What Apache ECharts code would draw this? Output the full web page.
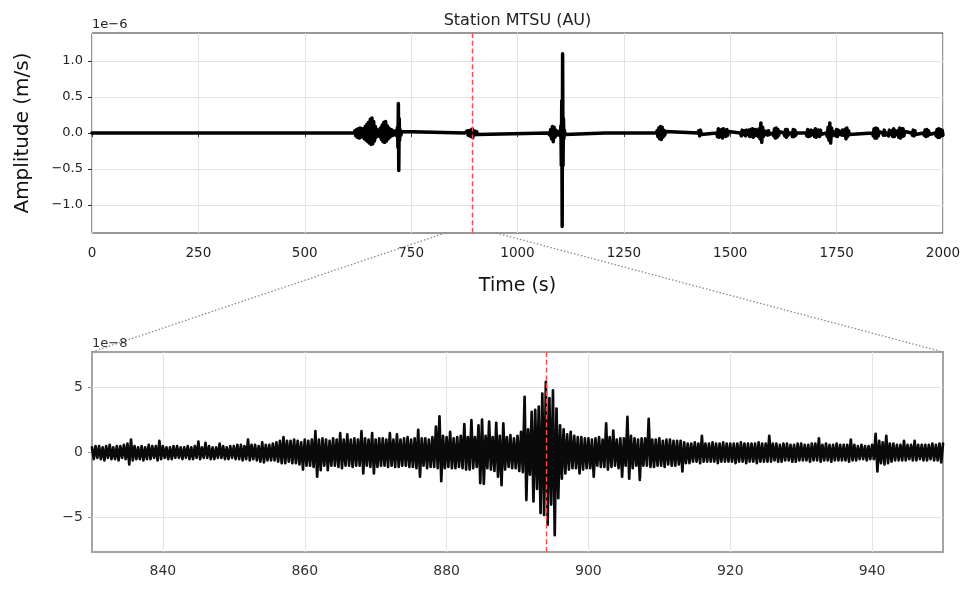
<!DOCTYPE html>
<html lang="en">
<head>
<meta charset="UTF-8">
<title>Station MTSU (AU)</title>
<script src="https://cdn.jsdelivr.net/npm/echarts@6.0.0/dist/echarts.min.js"></script>
<style>
    html, body { margin: 0; padding: 0; background: #fff; }
    #main { width: 971px; height: 590px; }
</style>
</head>
<body>
<div id="main"></div>
<script>
// whole record, [time (s), amplitude (x1e-6 m/s)], quiet stretches kept at 0
var overviewTrace = [
    [0,0],[616,0],
    [618,0.03],[620,-0.04],[622,0.05],[624,-0.06],[626,0.06],[628,-0.07],[630,0.07],[632,-0.06],[634,0.06],[636,-0.05],
    [638,0.06],[640,-0.08],[642,0.09],[644,-0.10],[646,0.12],[648,-0.12],[650,0.15],[652,-0.14],[654,0.19],[656,-0.16],
    [658,0.21],[660,-0.15],[662,0.16],[664,-0.11],[666,0.09],[668,-0.06],[670,0.05],[672,-0.03],[674,0.03],[676,-0.05],
    [678,0.07],[680,-0.09],[682,0.11],[684,-0.12],[686,0.15],[688,-0.13],[690,0.16],[692,-0.11],[694,0.10],[696,-0.08],
    [698,0.07],[700,-0.06],[702,0.05],[704,-0.04],[706,0.04],[708,-0.03],[710,0.02],[712,-0.02],[714,0.03],[716,-0.04],
    [718,0.08],[719,-0.20],[720,0.41],[721,-0.52],[722,0.20],[723,-0.10],[724,0.05],[726,-0.03],[728,0.02],[730,0],
    [876,0],[878,0.02],[880,-0.02],[882,0.03],[884,-0.03],[886,0.03],[888,-0.04],[890,0.04],[892,-0.05],[894,0.055],
    [895,-0.065],[896,0.04],[898,-0.03],[900,0.025],[902,-0.02],[904,0.02],[906,-0.02],[908,0],
    [1072,0],[1074,0.02],[1076,-0.03],[1078,0.05],[1080,-0.08],[1082,0.09],[1084,-0.12],[1086,0.08],[1088,-0.06],[1090,0.04],
    [1092,-0.03],[1094,0.02],[1096,-0.02],[1098,0.02],[1100,-0.04],[1102,0.10],[1103,-0.45],[1104,0.45],[1105,-1.30],
    [1106,1.10],[1107,-0.45],[1108,0.20],[1109,-0.08],[1110,0.04],[1112,-0.02],[1114,0],
    [1206,0],[1208,0.02],[1210,-0.02],[1212,0],[1250,0],[1252,0.02],[1254,-0.02],[1256,0],
    [1326,0],[1328,0.03],[1330,-0.05],[1332,0.07],[1334,-0.08],[1336,0.09],[1338,-0.09],[1340,0.08],[1342,-0.06],[1344,0.04],
    [1346,-0.03],[1348,0.02],[1350,0],
    [1424,0],[1426,0.03],[1428,-0.04],[1430,0.04],[1432,-0.02],[1434,0],
    [1468,0],[1470,-0.05],[1472,0.06],[1474,-0.06],[1476,0.03],[1478,-0.02],[1480,0.05],[1482,-0.07],[1484,0.06],[1486,-0.04],
    [1488,0.03],[1490,-0.05],[1492,0.05],[1494,-0.03],[1496,0.02],[1498,0],
    [1524,0],[1526,-0.04],[1528,0.04],[1530,-0.02],[1532,0],[1534,0.03],[1536,-0.04],[1538,0.04],[1540,-0.02],[1542,0],
    [1544,0.04],[1546,-0.05],[1548,0.05],[1550,-0.04],[1552,0.06],[1554,-0.06],[1556,0.05],[1558,-0.04],[1560,0.05],[1562,-0.03],
    [1564,0.03],[1566,-0.05],[1568,0.06],[1570,-0.08],[1572,0.14],[1574,-0.13],[1576,0.08],[1578,-0.05],[1580,0.03],[1582,-0.02],
    [1584,0],[1586,0.02],[1588,-0.03],[1590,0.03],[1592,-0.02],[1594,0],
    [1600,0],[1602,-0.04],[1604,0.06],[1606,-0.07],[1608,0.07],[1610,-0.06],[1612,0.05],[1614,-0.03],[1616,0.02],[1618,0],
    [1626,0],[1628,-0.04],[1630,0.05],[1632,-0.06],[1634,0.05],[1636,-0.03],[1638,0],
    [1644,0],[1646,-0.05],[1648,0.05],[1650,-0.05],[1652,0.04],[1654,-0.03],[1656,0],
    [1678,0],[1680,-0.04],[1682,0.05],[1684,-0.05],[1686,0.03],[1688,-0.04],[1690,0.04],[1692,-0.02],[1694,0],[1696,0.03],
    [1698,-0.05],[1700,0.06],[1702,-0.06],[1704,0.04],[1706,-0.03],[1708,0.04],[1710,-0.05],[1712,0.04],[1714,-0.02],[1716,0],
    [1726,0],[1728,-0.05],[1730,0.08],[1732,-0.10],[1734,0.14],[1736,-0.14],[1738,0.07],[1740,-0.04],[1742,0.02],[1744,0],
    [1746,0.02],[1748,-0.04],[1750,0.05],[1752,-0.05],[1754,0.04],[1756,-0.02],[1758,0],[1760,0.02],[1762,-0.03],[1764,0.04],
    [1766,-0.03],[1768,0],[1770,0.05],[1772,-0.08],[1774,0.07],[1776,-0.05],[1778,0.03],[1780,-0.02],[1782,0],
    [1834,0],[1836,-0.04],[1838,0.06],[1840,-0.07],[1842,0.07],[1844,-0.07],[1846,0.06],[1848,-0.04],[1850,0.02],[1852,0],
    [1858,0],[1860,-0.03],[1862,0.04],[1864,-0.03],[1866,0],[1870,0],[1872,-0.04],[1874,0.04],[1876,-0.02],[1878,0],
    [1880,0.03],[1882,-0.05],[1884,0.06],[1886,-0.05],[1888,0.03],[1890,-0.02],[1892,0],[1894,0.03],[1896,-0.06],[1898,0.07],
    [1900,-0.07],[1902,0.06],[1904,-0.05],[1906,0.06],[1908,-0.04],[1910,0.02],[1912,0],
    [1926,0],[1928,-0.03],[1930,0.04],[1932,-0.04],[1934,0.03],[1936,-0.02],[1938,0],
    [1954,0],[1956,-0.03],[1958,0.04],[1960,-0.05],[1962,0.05],[1964,-0.04],[1966,0.03],[1968,-0.02],[1970,0],
    [1982,0],[1984,-0.04],[1986,0.05],[1988,-0.06],[1990,0.06],[1992,-0.06],[1994,0.05],[1996,-0.04],[1998,0.04],[2000,-0.03]
];
var overviewXTicks = [0, 250, 500, 750, 1000, 1250, 1500, 1750, 2000];
var overviewYTicks = [-1.0, -0.5, 0.0, 0.5, 1.0];

// zoom window: one value every 0.25 s from 830 s, amplitude x1e-8 m/s
var zoomStart = 830;
var zoomStep = 0.25;
var zoomAmp = [
    0.4,-0.5,0.5,-0.4, 0.5,-0.5,0.4,-0.6, 0.5,-0.4,0.6,-0.5, 0.4,-0.5,0.5,-0.6, 0.5,-0.4,0.6,-0.5,
    0.7,-0.9,1.0,-0.6, 0.5,-0.5,0.4,-0.5, 0.5,-0.6,0.4,-0.5, 0.6,-0.5,0.5,-0.4, 0.5,-0.6,0.9,-0.5,
    0.5,-0.4,0.4,-0.5, 0.4,-0.5,0.5,-0.4, 0.5,-0.4,0.4,-0.5, 0.4,-0.4,0.5,-0.5, 0.4,-0.5,0.5,-0.4,
    0.85,-0.5,0.4,-0.4, 0.75,-0.4,0.5,-0.5, 0.4,-0.5,0.4,-0.4, 0.7,-0.4,0.5,-0.5, 0.4,-0.5,0.5,-0.4,
    0.5,-0.5,0.6,-0.5, 0.6,-0.6,0.5,-0.5, 1.0,-0.6,0.6,-0.5, 0.6,-0.6,0.5,-0.7, 0.8,-0.75,0.6,-0.6,
    0.6,-0.6,0.7,-0.6, 0.8,-0.7,0.9,-0.8, 1.2,-0.8,0.9,-0.7, 0.9,-0.8,1.0,-0.8, 0.9,-0.9,0.8,-1.3,
    1.0,-1.0,0.9,-1.0, 1.0,-1.1,1.65,-1.85, 1.0,-1.35,1.1,-1.0, 1.0,-1.35,0.9,-1.0, 1.1,-1.0,1.0,-1.1,
    1.5,-1.2,1.0,-1.0, 1.4,-1.0,1.0,-1.1, 1.1,-1.0,1.0,-1.0, 1.65,-1.6,1.1,-1.0, 1.0,-1.1,1.5,-1.6,
    1.0,-1.1,1.1,-1.0, 1.1,-1.0,1.0,-1.1, 1.5,-1.0,1.0,-1.1, 1.4,-1.1,1.0,-1.0, 1.1,-1.0,1.2,-1.1,
    1.0,-1.1,1.1,-1.2, 1.75,-1.85,1.1,-1.0, 1.1,-1.2,1.0,-1.1, 1.2,-1.1,2.0,-1.2, 2.8,-2.2,1.3,-1.2,
    1.2,-1.1,1.6,-1.2, 1.1,-1.2,1.2,-1.1, 1.3,-1.2,2.2,-1.3, 1.2,-1.3,2.5,-1.2, 1.2,-1.1,2.1,-2.35,
    2.55,-2.4,1.3,-1.2, 2.4,-1.3,1.2,-1.4, 2.3,-1.85,1.3,-2.5, 2.25,-1.3,1.2,-1.1, 1.35,-1.2,1.1,-1.2,
    1.3,-1.4,1.6,-1.5, 4.3,-3.65,1.8,-1.7, 3.15,-3.75,3.3,-2.8, 3.55,-4.65,4.55,-4.8, 5.45,-5.55,4.2,-4.0,
    4.8,-6.35,3.4,-3.5, 2.1,-2.0,1.8,-1.6, 1.4,-1.3,1.6,-1.2, 1.3,-1.2,1.2,-1.6, 1.2,-1.3,1.1,-1.2,
    1.1,-1.2,1.0,-1.85, 1.1,-1.0,1.2,-1.1, 1.0,-1.1,2.25,-1.3, 1.2,-1.1,1.7,-1.0, 1.0,-1.2,1.1,-1.85,
    1.1,-1.0,2.75,-2.0, 1.3,-1.2,1.1,-1.0, 1.0,-2.1,1.1,-1.0, 1.1,-1.0,2.6,-1.1, 1.0,-1.1,1.0,-1.0,
    1.1,-1.0,0.9,-1.1, 1.0,-0.9,1.0,-1.0, 0.9,-1.0,0.9,-0.9, 0.9,-1.45,0.8,-0.8, 0.7,-0.8,0.7,-0.7,
    0.8,-0.7,0.7,-0.8, 1.3,-0.7,0.7,-0.7, 0.7,-0.7,0.8,-0.7, 0.7,-0.8,0.7,-0.7, 0.8,-0.7,0.7,-0.7,
    0.7,-0.7,0.7,-0.8, 0.7,-0.7,0.8,-0.7, 0.7,-0.8,0.7,-0.7, 0.7,-0.7,0.7,-0.8, 0.8,-0.7,0.7,-0.7,
    0.7,-0.7,1.3,-0.7, 0.7,-0.6,0.7,-0.7, 0.6,-0.7,0.7,-0.6, 0.7,-0.6,0.6,-0.7, 0.6,-0.7,0.7,-0.6,
    0.7,-0.6,0.6,-0.6, 0.6,-0.7,0.7,-0.6, 0.7,-0.6,1.1,-0.7, 0.6,-0.6,0.7,-0.6, 0.6,-0.7,0.6,-0.6,
    0.7,-0.6,0.6,-0.6, 0.6,-0.6,0.6,-0.7, 1.0,-0.6,0.6,-0.6, 0.5,-0.5,0.6,-0.5, 0.5,-0.6,0.5,-0.5,
    0.6,-0.5,1.45,-1.45, 0.9,-0.8,0.8,-0.9, 1.3,-0.8,0.7,-0.7, 0.7,-0.6,0.6,-0.6, 0.6,-0.6,0.9,-0.6,
    0.6,-0.5,0.6,-0.6, 0.9,-0.6,0.6,-0.5, 0.6,-0.6,0.6,-0.6, 0.6,-0.5,0.7,-0.6, 0.6,-0.6,0.7,-0.75,
    0.7
];
var zoomXTicks = [840, 860, 880, 900, 920, 940];
var zoomYTicks = [-5, 0, 5];

var pickTime = 894;   // red dashed marker

// layout
var LEFT = 92, RIGHT = 28;
var TOP1 = 33, H1 = 200;
var TOP2 = 352, H2 = 200;
var FONT = 'DejaVu Sans';

var zoomTrace = [];
for (var i = 0; i < zoomAmp.length; i++) {
    zoomTrace.push([zoomStart + i * zoomStep, zoomAmp[i]]);
}
var zoomEnd = zoomStart + (zoomAmp.length - 1) * zoomStep;

function minus(s) { return String(s).replace('-', '\u2212'); }

var pickLine = {
    silent: true,
    symbol: ['none', 'none'],
    label: { show: false },
    lineStyle: { color: '#ff4848', type: [5, 2.8], width: 1.4 },
    data: [{ xAxis: pickTime }]
};

var chart = echarts.init(document.getElementById('main'));

var option = {
    animation: false,
    backgroundColor: '#fff',
    textStyle: { fontFamily: FONT },
    title: {
        text: 'Station MTSU (AU)',
        left: LEFT + (971 - LEFT - RIGHT) / 2 - 5,
        textAlign: 'center',
        top: 8,
        textStyle: { fontFamily: FONT, fontSize: 16, fontWeight: 'normal', color: '#222' }
    },
    grid: [
        { left: LEFT, right: RIGHT, top: TOP1, height: H1, show: true, borderColor: '#333', borderWidth: 1 },
        { left: LEFT, right: RIGHT, top: TOP2, height: H2, show: true, borderColor: '#a3a3a3', borderWidth: 2 }
    ],
    xAxis: [
        {
            gridIndex: 0, type: 'value', min: 0, max: 2000,
            name: 'Time (s)', nameLocation: 'middle', nameGap: 44,
            nameTextStyle: { fontFamily: FONT, fontSize: 19, color: '#111' },
            axisLine: { show: false },
            axisTick: { show: true, customValues: overviewXTicks, length: 4, lineStyle: { color: '#333' } },
            axisLabel: {
                customValues: overviewXTicks, margin: 13, fontFamily: FONT, fontSize: 13.5, color: '#222',
                formatter: function (v) { return String(v); }
            },
            splitLine: { show: true, lineStyle: { color: '#e3e3e3', width: 1 } }
        },
        {
            gridIndex: 1, type: 'value', min: zoomStart, max: zoomEnd,
            axisLine: { show: false },
            axisTick: { show: true, customValues: zoomXTicks, length: 4, lineStyle: { color: '#999' } },
            axisLabel: {
                customValues: zoomXTicks, margin: 12, fontFamily: FONT, fontSize: 14, color: '#333',
                formatter: function (v) { return String(v); }
            },
            splitLine: { show: true, lineStyle: { color: '#e3e3e3', width: 1 } }
        }
    ],
    yAxis: [
        {
            gridIndex: 0, type: 'value', min: -1.39, max: 1.39,
            name: 'Amplitude (m/s)', nameLocation: 'middle', nameGap: 59,
            nameTextStyle: { fontFamily: FONT, fontSize: 20, color: '#111' },
            axisLine: { show: false },
            axisTick: { show: true, customValues: overviewYTicks, length: 4, lineStyle: { color: '#333' } },
            axisLabel: {
                customValues: overviewYTicks, margin: 9, fontFamily: FONT, fontSize: 13, color: '#222',
                formatter: function (v) { return minus(v.toFixed(1)); }
            },
            splitLine: { show: true, lineStyle: { color: '#e3e3e3', width: 1 } }
        },
        {
            gridIndex: 1, type: 'value', min: -7.65, max: 7.75,
            axisLine: { show: false },
            axisTick: { show: true, customValues: zoomYTicks, length: 4, lineStyle: { color: '#999' } },
            axisLabel: {
                customValues: zoomYTicks, margin: 9, fontFamily: FONT, fontSize: 14, color: '#333',
                formatter: function (v) { return minus(v.toFixed(0)); }
            },
            splitLine: { show: true, lineStyle: { color: '#e3e3e3', width: 1 } }
        }
    ],
    series: [
        {
            type: 'line', xAxisIndex: 0, yAxisIndex: 0,
            data: overviewTrace, showSymbol: false, symbol: 'none', silent: true,
            lineStyle: { color: '#000', width: 3.5, join: 'round', cap: 'round' },
            markLine: pickLine
        },
        {
            type: 'line', xAxisIndex: 1, yAxisIndex: 1,
            data: zoomTrace, showSymbol: false, symbol: 'none', silent: true,
            lineStyle: { color: '#0a0a0a', width: 2.7, join: 'round', cap: 'round' },
            markLine: pickLine
        }
    ]
};

chart.setOption(option);

// dotted connectors from the zoom window on the overview to the lower panel corners
var a = chart.convertToPixel({ xAxisIndex: 0, yAxisIndex: 0 }, [zoomStart, -1.39]);
var b = chart.convertToPixel({ xAxisIndex: 1, yAxisIndex: 1 }, [zoomStart, 7.75]);
var c = chart.convertToPixel({ xAxisIndex: 0, yAxisIndex: 0 }, [zoomEnd, -1.39]);
var d = chart.convertToPixel({ xAxisIndex: 1, yAxisIndex: 1 }, [zoomEnd, 7.75]);
var dotted = { stroke: '#8a8a8a', lineWidth: 1.3, lineDash: [1.5, 2] };

chart.setOption({
    graphic: [
        { type: 'line', z: 50, shape: { x1: a[0], y1: a[1], x2: b[0], y2: b[1] }, style: dotted, silent: true },
        { type: 'line', z: 50, shape: { x1: c[0], y1: c[1], x2: d[0], y2: d[1] }, style: dotted, silent: true },
        { type: 'text', left: LEFT, top: TOP1 - 15, z: 60,
          style: { text: '1e\u22126', font: '13px "DejaVu Sans"', fill: '#222' } },
        { type: 'text', left: LEFT, top: TOP2 - 15, z: 60,
          style: { text: '1e\u22128', font: '13px "DejaVu Sans"', fill: '#333' } }
    ]
});
</script>
</body>
</html>
